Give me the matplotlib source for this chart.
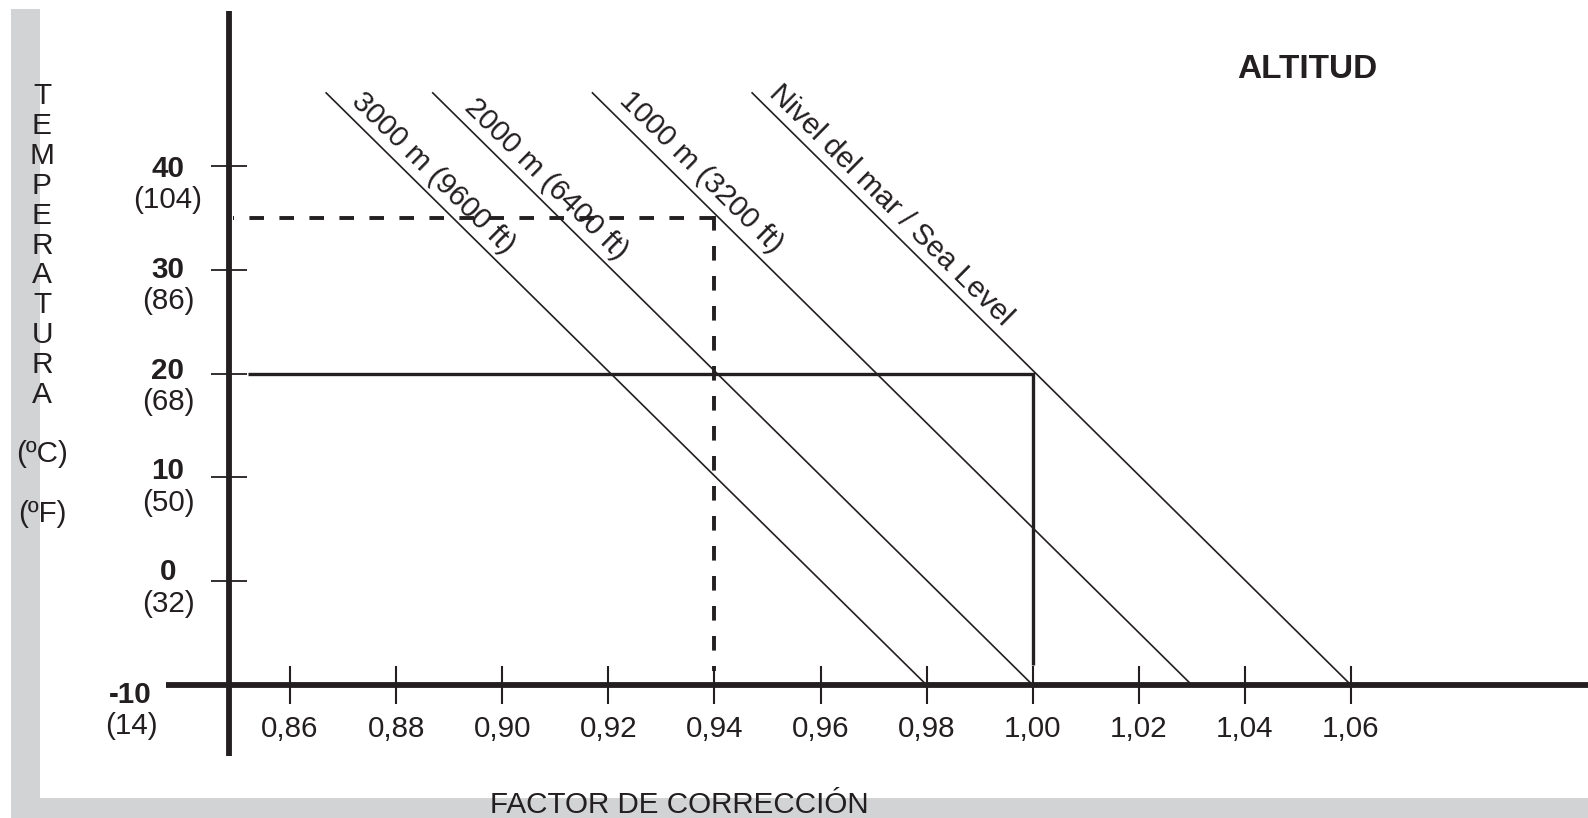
import math
import matplotlib
matplotlib.use("Agg")
import matplotlib.pyplot as plt
from matplotlib.patches import Rectangle

# ---------------- data ----------------
x_ticks = [0.86, 0.88, 0.90, 0.92, 0.94, 0.96, 0.98, 1.00, 1.02, 1.04, 1.06]
x_tick_labels = ["0,86", "0,88", "0,90", "0,92", "0,94", "0,96", "0,98",
                 "1,00", "1,02", "1,04", "1,06"]
temp_c_ticks = [40, 30, 20, 10, 0]
temp_c_labels = ["40", "30", "20", "10", "0"]
temp_f_labels = ["(104)", "(86)", "(68)", "(50)", "(32)"]
base_temp = -10
base_c_label = "-10"
base_f_label = "(14)"

altitude_names = ["3000 m (9600 ft)", "2000 m (6400 ft)",
                  "1000 m (3200 ft)", "Nivel del mar / Sea Level"]
line_top_temp = 47.1
line_top_factor = [0.8667, 0.8868, 0.9169, 0.9470]
line_base_factor = [0.98, 1.00, 1.03, 1.06]

example_solid_factor, example_solid_temp = 1.00, 20
example_dashed_factor, example_dashed_temp = 0.94, 35

x_title = "FACTOR DE CORRECCIÓN"
y_title = "TEMPERATURA"
unit_c, unit_f = "(ºC)", "(ºF)"
corner_title = "ALTITUD"

# ---------------- layout ----------------
W, H, DPI = 1588, 818, 100
INK = "#231f20"
GRAY = "#d1d3d4"
FS = 21.3
X_REF, X_REF_PX, X_PX_PER_UNIT = 0.86, 290.0, 5305.0
Y_REF, Y_REF_PX, Y_PX_PER_DEG = 40.0, 166.0, 10.38
AXIS_X_PX = 229
AXIS_LEFT_PX = 166
AXIS_TOP_PX, AXIS_BOTTOM_PX = 11, 756
GUIDE_END_PX = 665
label_pos_temp = [38.1, 37.5, 38.0, 35.0]
label_offset_px = [18, 18.5, 20, 18]

plt.rcParams['font.family'] = ['Liberation Sans', 'DejaVu Sans']
plt.rcParams['lines.scale_dashes'] = False


def fx(px):
    return X_REF + (px - X_REF_PX) / X_PX_PER_UNIT


def fy(py):
    return Y_REF + (Y_REF_PX - py) / Y_PX_PER_DEG


def ty(t):
    return Y_REF_PX + (Y_REF - t) * Y_PX_PER_DEG


fig = plt.figure(figsize=(W / DPI, H / DPI), dpi=DPI)
fig.patch.set_facecolor("white")


def ftext(xp, yp, s, **kw):
    kw.setdefault("color", INK)
    kw.setdefault("fontsize", FS)
    return fig.text(xp / W, 1 - yp / H, s, **kw)


# gray L frame
fig.add_artist(Rectangle((11 / W, 0), 29 / W, (H - 9) / H, transform=fig.transFigure,
                         facecolor=GRAY, edgecolor="none", zorder=-5))
fig.add_artist(Rectangle((11 / W, 0), 1, 20 / H, transform=fig.transFigure,
                         facecolor=GRAY, edgecolor="none", zorder=-5))

ax = fig.add_axes([0, 0, 1, 1])
ax.patch.set_visible(False)
ax.set_xlim(fx(0), fx(W))
ax.set_ylim(fy(H), fy(0))

for s in ("top", "right"):
    ax.spines[s].set_visible(False)
ax.spines["left"].set_position(("data", fx(AXIS_X_PX)))
ax.spines["bottom"].set_position(("data", base_temp))
ax.spines["left"].set_bounds(fy(AXIS_BOTTOM_PX), fy(AXIS_TOP_PX))
ax.spines["bottom"].set_bounds(fx(AXIS_LEFT_PX), fx(W + 5))
for s in ("left", "bottom"):
    ax.spines[s].set_linewidth(4.2)
    ax.spines[s].set_color(INK)
    ax.spines[s].set_capstyle("butt")
    ax.spines[s].set_zorder(3)

ax.set_xticks(x_ticks, x_tick_labels)
ax.set_yticks(temp_c_ticks)
ax.tick_params(axis="x", direction="inout", length=27.4, width=1.5, color=INK,
               labelsize=FS, labelcolor=INK, pad=8.2)
ax.tick_params(axis="y", direction="inout", length=26.6, width=1.3, color=INK,
               labelleft=False)

# altitude lines
for name, ft, fb, lt, off in zip(altitude_names, line_top_factor, line_base_factor,
                                 label_pos_temp, label_offset_px):
    ax.plot([ft, fb], [line_top_temp, base_temp], color=INK, lw=1.2,
            solid_capstyle="butt", zorder=2)
    p1 = ax.transData.transform((ft, line_top_temp))
    p2 = ax.transData.transform((fb, base_temp))
    dx, dy = p2[0] - p1[0], p2[1] - p1[1]
    L = math.hypot(dx, dy)
    ang = math.degrees(math.atan2(dy, dx))
    nx, ny = -dy / L, dx / L
    frac = (line_top_temp - lt) / (line_top_temp - base_temp)
    xf = ft + (fb - ft) * frac
    ax.annotate(name, xy=(xf, lt), xytext=(nx * off, ny * off),
                textcoords="offset pixels", rotation=ang, rotation_mode="anchor",
                ha="center", va="center", fontsize=FS, color=INK)

# example solid guide
ax.plot([fx(248), example_solid_factor, example_solid_factor],
        [example_solid_temp, example_solid_temp, fy(GUIDE_END_PX)],
        color=INK, lw=2.4, solid_joinstyle="miter", solid_capstyle="butt", zorder=2)

# example dashed guide (drawn from the corner outward)
dash = (0, (10.5, 11.1))
ax.plot([example_dashed_factor, fx(233)], [example_dashed_temp, example_dashed_temp],
        color=INK, lw=2.8, linestyle=dash, zorder=2)
ax.plot([example_dashed_factor, example_dashed_factor],
        [example_dashed_temp + 0.15, fy(GUIDE_END_PX + 6)],
        color=INK, lw=2.8, linestyle=dash, zorder=2)

# y labels (two lines per tick)
for t, cl, fl in zip(temp_c_ticks, temp_c_labels, temp_f_labels):
    base = ty(t) + 0.3 * t - 1
    ftext(168, base, cl, ha="center", va="baseline", fontweight="bold")
    ftext(168, base + 31.5, fl, ha="center", va="baseline")
ftext(130.5, 703, base_c_label, ha="center", va="baseline", fontweight="bold")
ftext(131, 734, base_f_label, ha="center", va="baseline")

# vertical stacked y title
for i, ch in enumerate(y_title):
    ftext(42, 104.3 + i * 29.84, ch, ha="center", va="baseline", fontsize=21.5)
ftext(42, 462, unit_c, ha="center", va="baseline")
ftext(42, 522, unit_f, ha="center", va="baseline")

# x title and corner title
ftext(679.5, 813, x_title, ha="center", va="baseline")
ftext(1307, 78, corner_title, ha="center", va="baseline", fontsize=24, fontweight="bold")

fig.savefig("out.png", dpi=DPI, facecolor="white")
